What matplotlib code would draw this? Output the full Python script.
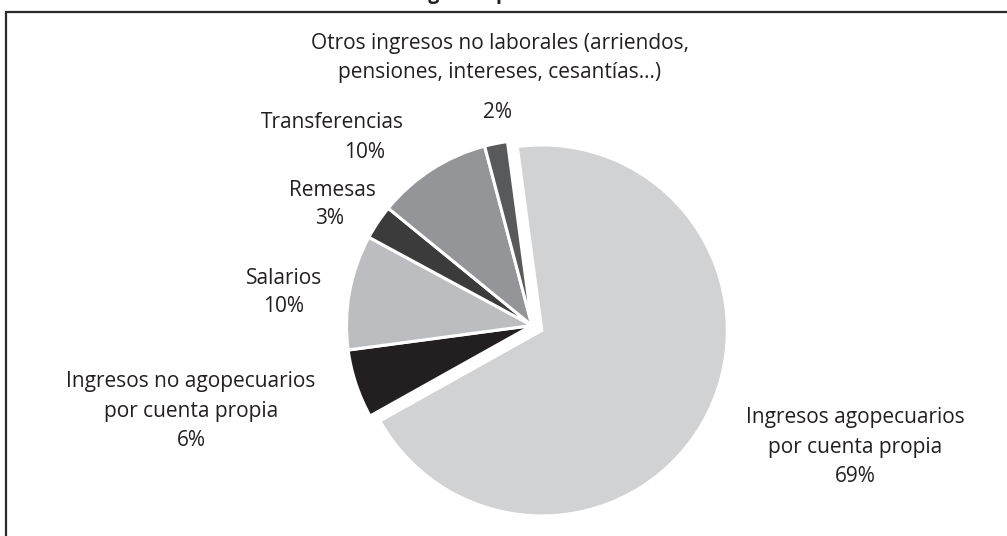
import matplotlib
matplotlib.use("Agg")
import matplotlib.pyplot as plt

# ---- data ----
categories = [
    "Ingresos agopecuarios\npor cuenta propia",
    "Ingresos no agopecuarios\npor cuenta propia",
    "Salarios",
    "Remesas",
    "Transferencias",
    "Otros ingresos no laborales (arriendos,\npensiones, intereses, cesantías…)",
]
values = [69, 6, 10, 3, 10, 2]
pct_labels = ["69%", "6%", "10%", "3%", "10%", "2%"]
colors = ["#d1d2d4", "#231f20", "#bcbdc0", "#3b3b3c", "#939598", "#58595b"]
title = "Ingresos por fuente"

W, H = 1007, 536
fig = plt.figure(figsize=(W / 100, H / 100), dpi=100)
ax = fig.add_axes([0, 0, 1, 1])

def py(p):
    return H - p

FONT = ["Open Sans", "DejaVu Sans"]
TXT = "#231f20"

cx, cy, r = 532, py(325.5), 185.5
explode = [11, 0, 0, 0, 0, 0]   # offset in pixels (style)
ax.pie(values, colors=colors, startangle=97.6, counterclock=False,
       center=(cx, cy), radius=r, explode=explode,
       wedgeprops=dict(edgecolor="white", linewidth=2.2), frame=True)
ax.set_xlim(0, W)
ax.set_ylim(0, H)
ax.set_aspect("equal")
ax.axis("off")

# frame (cropped on the right and bottom)
ax.plot([6, 6, W + 5], [-5, py(11.5), py(11.5)], color="#2b2b2b", lw=1.6,
        solid_joinstyle="miter", clip_on=False)

# title cut off at the top
ax.text(504, py(-1), title, ha="center", va="baseline", fontsize=14,
        fontweight="bold", family=FONT, color=TXT)

# label layout: (center x, first line y, percent x, percent y)
layout = {
    0: (855, 418, 855, 477),
    1: (191, 382, 191, 440),
    2: (284, 278, 284, 307),
    3: (332, 190, 330, 218),
    4: (332, 123, 365, 152),
    5: (500, 43, 497, 113),
}
step = 29.5
fs = 15
for i, (name, pct) in enumerate(zip(categories, pct_labels)):
    x0, y0, xp, yp = layout[i]
    for k, line in enumerate(name.split("\n")):
        ax.text(x0, py(y0 + k * step), line, ha="center", va="center",
                fontsize=fs, family=FONT, color=TXT)
    ax.text(xp, py(yp), pct, ha="center", va="center", fontsize=fs,
            family=FONT, color=TXT)

fig.savefig("out.png", dpi=100)
